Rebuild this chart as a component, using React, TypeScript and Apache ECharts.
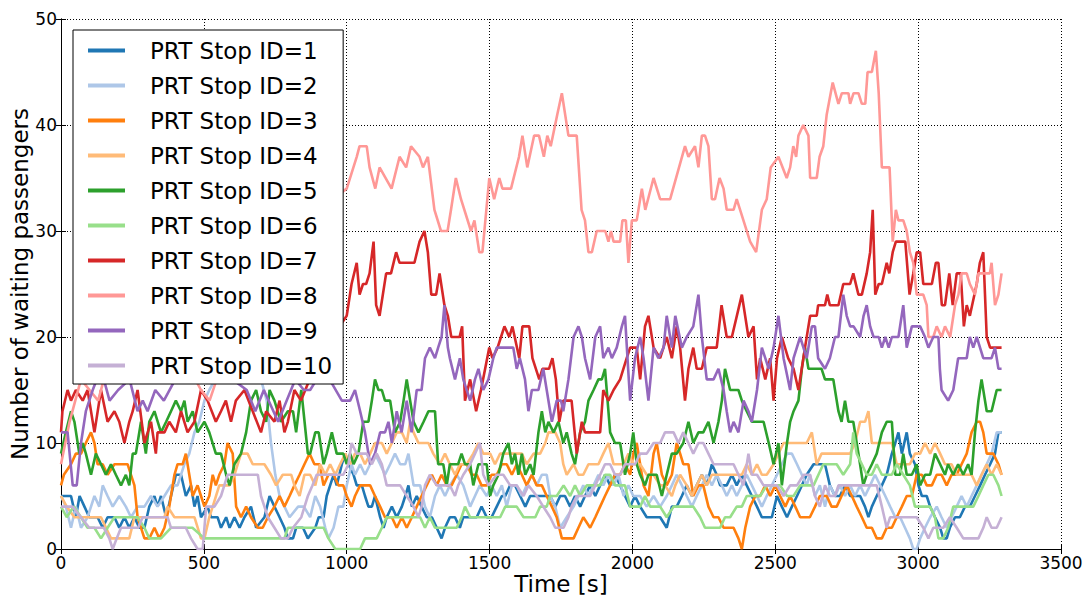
import React, { useEffect, useRef } from "react";
import * as echarts from "echarts";

const seriesNames = [
  "PRT Stop ID=1", "PRT Stop ID=2", "PRT Stop ID=3", "PRT Stop ID=4", "PRT Stop ID=5",
  "PRT Stop ID=6", "PRT Stop ID=7", "PRT Stop ID=8", "PRT Stop ID=9", "PRT Stop ID=10",
];
const seriesColors = [
  "#1f77b4", "#aec7e8", "#ff7f0e", "#ffbb78", "#2ca02c",
  "#98df8a", "#d62728", "#ff9896", "#9467bd", "#c5b0d5",
];

const xTicks = { min: 0, max: 3500, step: 500 };
const yTicks = { min: 0, max: 50, step: 10 };

// [time (s), waiting passengers]
const stop1 = [[0,5],[23,5],[35,5],[52,3],[65,5],[82,4],[99,3],[128,3],[146,2],[163,3],[187,3],[204,2],[222,3],[239,2],[257,3],[274,2],[292,2],[309,4],[327,5],[338,4],[350,5],[368,3],[385,5],[402,7],[420,7],[437,5],[455,6],[467,4],[478,5],[490,3],[513,4],[525,3],[548,3],[560,2],[578,3],[590,2],[607,3],[625,2],[642,3],[665,4],[683,2],[712,3],[730,5],[747,4],[765,3],[782,2],[794,1],[812,1],[823,2],[847,2],[864,1],[890,2],[902,3],[919,3],[930,5],[942,6],[954,7],[965,6],[983,8],[995,9],[1006,8],[1024,7],[1035,6],[1053,6],[1064,5],[1076,4],[1088,4],[1099,5],[1117,3],[1129,2],[1140,3],[1158,4],[1175,3],[1193,4],[1205,5],[1216,6],[1228,4],[1245,5],[1262,4],[1280,3],[1298,3],[1315,2],[1332,1],[1344,2],[1361,3],[1379,3],[1396,2],[1408,3],[1432,3],[1455,3],[1472,4],[1490,3],[1507,3],[1525,4],[1543,5],[1555,5],[1572,6],[1589,6],[1607,5],[1625,4],[1642,5],[1665,5],[1688,5],[1712,5],[1730,4],[1747,5],[1764,5],[1782,4],[1799,5],[1817,4],[1834,5],[1852,6],[1870,5],[1887,6],[1904,7],[1922,6],[1939,7],[1957,6],[1974,5],[1992,4],[2009,5],[2027,4],[2050,3],[2074,3],[2097,3],[2120,2],[2138,4],[2155,4],[2173,5],[2190,6],[2208,5],[2225,6],[2243,7],[2260,6],[2278,8],[2295,7],[2307,6],[2330,6],[2348,7],[2365,6],[2383,7],[2400,6],[2418,5],[2436,4],[2453,3],[2470,3],[2488,3],[2506,5],[2523,4],[2541,3],[2558,4],[2576,5],[2593,6],[2610,7],[2634,8],[2656,8],[2674,8],[2691,6],[2709,5],[2726,5],[2744,6],[2762,5],[2779,5],[2797,5],[2814,4],[2826,3],[2838,4],[2855,5],[2873,6],[2890,7],[2908,9],[2920,10],[2931,11],[2943,9],[2960,11],[2971,9],[2989,8],[3001,6],[3013,5],[3030,5],[3042,4],[3059,3],[3077,2],[3088,1],[3100,1],[3111,2],[3129,3],[3146,3],[3164,4],[3181,4],[3199,5],[3217,6],[3234,7],[3252,8],[3269,9],[3281,11],[3292,11]];
const stop2 = [[0,5],[17,4],[35,2],[52,4],[70,2],[93,3],[117,5],[134,4],[146,6],[163,5],[181,4],[204,5],[227,4],[245,3],[268,4],[292,4],[315,5],[338,4],[362,5],[385,6],[408,6],[432,8],[449,9],[467,11],[484,12],[502,14],[519,15],[560,17],[620,18],[680,17],[700,16],[720,14],[735,10],[750,7],[765,5],[782,4],[800,3],[830,4],[850,4],[872,3],[890,5],[907,4],[925,2],[936,1],[954,2],[971,4],[988,4],[1000,6],[1017,8],[1029,7],[1047,8],[1064,7],[1082,8],[1099,9],[1117,8],[1134,7],[1152,8],[1169,9],[1187,8],[1205,8],[1216,9],[1234,6],[1257,6],[1274,4],[1291,3],[1309,5],[1326,6],[1344,5],[1361,6],[1385,7],[1408,6],[1432,4],[1449,5],[1466,6],[1490,5],[1507,6],[1525,5],[1543,6],[1560,4],[1578,6],[1595,6],[1613,5],[1630,6],[1648,7],[1665,6],[1683,7],[1700,7],[1712,5],[1730,4],[1747,2],[1770,3],[1794,4],[1811,5],[1828,6],[1846,5],[1864,6],[1881,7],[1898,6],[1916,7],[1934,6],[1951,7],[1969,5],[1986,6],[2003,5],[2027,5],[2050,4],[2074,5],[2097,4],[2120,5],[2138,6],[2155,7],[2173,6],[2190,5],[2208,4],[2225,5],[2243,6],[2260,7],[2278,6],[2295,7],[2313,6],[2330,5],[2348,6],[2365,5],[2383,6],[2400,7],[2418,6],[2436,5],[2453,4],[2470,5],[2488,6],[2506,7],[2523,8],[2541,9],[2558,9],[2576,8],[2593,7],[2610,6],[2621,7],[2639,5],[2656,6],[2674,4],[2691,6],[2709,5],[2726,6],[2744,5],[2762,6],[2779,5],[2797,6],[2814,5],[2832,6],[2849,7],[2867,6],[2885,5],[2902,4],[2920,3],[2937,3],[2954,2],[2971,1],[2983,0],[2995,0],[3007,1],[3024,2],[3042,3],[3065,4],[3082,3],[3100,2],[3117,3],[3135,4],[3152,5],[3170,4],[3187,5],[3205,6],[3222,7],[3240,8],[3257,9],[3275,11],[3292,11]];
const stop3 = [[0,6],[10,7],[35,8],[52,9],[70,9],[87,10],[105,11],[117,10],[128,8],[146,8],[163,7],[187,8],[210,8],[233,8],[245,7],[257,6],[268,3],[292,1],[309,1],[327,2],[344,1],[362,2],[379,4],[397,7],[408,8],[426,8],[437,9],[449,7],[461,5],[478,6],[490,5],[502,4],[519,5],[531,7],[542,6],[554,7],[572,8],[583,10],[601,9],[613,4],[630,3],[648,4],[665,3],[689,2],[706,2],[724,3],[747,4],[765,5],[782,4],[800,5],[817,6],[835,7],[852,8],[870,9],[887,8],[905,8],[919,6],[936,7],[954,7],[971,6],[988,6],[1000,5],[1017,4],[1029,5],[1047,6],[1064,6],[1082,6],[1099,5],[1117,4],[1134,3],[1158,3],[1175,2],[1193,3],[1210,2],[1228,3],[1245,4],[1262,5],[1280,6],[1298,7],[1315,6],[1332,7],[1350,6],[1367,6],[1385,7],[1402,8],[1420,8],[1437,7],[1455,7],[1472,6],[1490,6],[1507,7],[1525,7],[1543,8],[1560,8],[1578,7],[1595,8],[1613,7],[1630,6],[1648,7],[1665,6],[1683,6],[1700,5],[1718,4],[1735,3],[1753,1],[1764,1],[1794,1],[1811,2],[1828,3],[1852,2],[1870,3],[1887,4],[1904,5],[1922,6],[1939,7],[1957,7],[1974,8],[1992,7],[2003,9],[2015,10],[2027,8],[2039,6],[2056,5],[2074,9],[2085,10],[2103,7],[2120,6],[2138,7],[2155,10],[2167,9],[2178,8],[2196,8],[2213,5],[2231,6],[2248,6],[2266,4],[2284,3],[2301,3],[2319,2],[2336,2],[2354,2],[2371,1],[2383,0],[2395,2],[2412,4],[2430,5],[2447,5],[2465,6],[2482,5],[2500,6],[2517,5],[2535,4],[2552,5],[2570,4],[2587,3],[2610,3],[2621,3],[2639,4],[2656,5],[2680,5],[2697,4],[2715,4],[2732,5],[2750,6],[2768,5],[2785,4],[2803,3],[2820,2],[2838,2],[2855,1],[2873,1],[2890,2],[2908,2],[2925,3],[2943,4],[2960,5],[2978,5],[2995,7],[3013,7],[3030,6],[3048,6],[3065,7],[3082,7],[3100,6],[3117,7],[3135,7],[3152,8],[3170,9],[3187,11],[3205,12],[3217,12],[3228,11],[3240,9],[3263,9],[3281,8],[3292,7]];
const stop4 = [[0,5],[20,4],[47,3],[100,3],[140,3],[175,1],[239,1],[257,3],[362,3],[373,4],[397,3],[467,3],[490,1],[502,1],[519,3],[531,4],[554,6],[572,6],[590,6],[607,7],[630,9],[653,9],[671,8],[689,8],[712,8],[735,7],[753,6],[776,7],[806,7],[817,6],[835,5],[852,7],[872,7],[890,6],[907,8],[925,7],[942,8],[960,7],[977,8],[995,9],[1012,8],[1029,9],[1047,9],[1064,8],[1082,9],[1099,10],[1123,10],[1140,9],[1158,10],[1175,11],[1193,11],[1210,10],[1222,12],[1234,11],[1251,10],[1269,10],[1286,10],[1303,9],[1326,8],[1344,9],[1361,8],[1379,7],[1396,8],[1420,8],[1443,9],[1461,10],[1478,9],[1502,9],[1519,8],[1537,9],[1560,9],[1578,9],[1595,9],[1613,9],[1630,8],[1654,9],[1677,9],[1695,10],[1706,11],[1730,11],[1747,10],[1758,8],[1770,7],[1794,8],[1811,7],[1828,7],[1846,8],[1864,8],[1881,8],[1898,9],[1916,10],[1934,8],[1951,8],[1969,8],[1986,9],[2003,8],[2027,8],[2050,7],[2074,7],[2097,6],[2114,6],[2138,5],[2150,6],[2167,7],[2190,6],[2208,5],[2225,6],[2243,7],[2260,6],[2278,7],[2295,7],[2313,7],[2330,7],[2348,7],[2365,7],[2383,7],[2400,8],[2418,7],[2436,8],[2453,7],[2470,7],[2494,8],[2511,9],[2529,10],[2552,10],[2570,10],[2587,10],[2610,10],[2628,11],[2645,8],[2662,9],[2685,9],[2715,9],[2738,9],[2762,9],[2779,10],[2797,12],[2814,12],[2826,13],[2838,10],[2855,10],[2873,10],[2890,10],[2908,10],[2925,8],[2948,8],[2971,8],[2989,9],[3007,9],[3024,10],[3042,9],[3059,10],[3077,9],[3094,8],[3117,8],[3135,7],[3152,7],[3170,7],[3187,7],[3205,6],[3222,7],[3240,8],[3257,7],[3275,8],[3292,7]];
const stop5 = [[0,9],[17,11],[35,13],[47,12],[64,9],[76,10],[87,9],[105,7],[122,9],[140,8],[157,7],[175,8],[192,7],[210,6],[227,7],[239,6],[251,9],[262,9],[280,12],[297,9],[309,12],[327,13],[350,11],[368,12],[385,13],[402,14],[420,13],[432,14],[443,12],[461,13],[478,11],[502,12],[519,11],[542,9],[560,9],[578,7],[590,6],[607,8],[630,9],[648,11],[665,14],[683,15],[700,13],[718,12],[730,15],[747,14],[770,12],[794,13],[812,13],[823,11],[841,15],[864,9],[872,9],[890,11],[902,11],[919,8],[930,9],[948,11],[965,9],[988,9],[1000,8],[1012,9],[1024,8],[1041,9],[1058,12],[1076,12],[1088,14],[1099,16],[1111,15],[1123,15],[1134,14],[1152,14],[1169,11],[1187,12],[1199,14],[1210,16],[1222,14],[1234,12],[1251,11],[1269,12],[1286,13],[1309,13],[1320,8],[1338,8],[1350,6],[1361,8],[1390,8],[1402,9],[1414,8],[1432,8],[1443,6],[1461,8],[1490,8],[1502,5],[1513,6],[1531,7],[1548,9],[1566,10],[1578,8],[1589,9],[1601,7],[1613,9],[1625,7],[1642,8],[1654,7],[1671,11],[1683,13],[1695,11],[1706,12],[1724,11],[1741,12],[1758,10],[1770,11],[1787,9],[1799,8],[1817,11],[1834,12],[1846,14],[1864,15],[1881,16],[1893,16],[1904,17],[1922,11],[1939,10],[1957,10],[1974,7],[1992,9],[2003,11],[2015,8],[2027,7],[2044,6],[2056,7],[2085,7],[2103,5],[2120,7],[2138,9],[2155,9],[2178,10],[2196,12],[2213,10],[2231,11],[2248,11],[2266,12],[2284,10],[2301,12],[2313,14],[2324,17],[2342,15],[2371,15],[2383,14],[2400,13],[2418,12],[2459,12],[2477,10],[2494,8],[2511,10],[2523,6],[2541,10],[2552,12],[2564,13],[2581,14],[2593,17],[2604,19],[2616,17],[2633,17],[2662,17],[2674,16],[2703,16],[2721,13],[2732,12],[2744,14],[2756,12],[2773,12],[2791,9],[2808,6],[2820,7],[2838,8],[2855,9],[2873,11],[2890,12],[2908,12],[2920,7],[2937,7],[2948,9],[2960,7],[2978,7],[2995,8],[3007,6],[3024,7],[3042,7],[3059,9],[3077,8],[3094,7],[3105,8],[3123,7],[3140,8],[3158,7],[3175,8],[3187,7],[3199,11],[3211,14],[3222,16],[3240,13],[3257,13],[3275,15],[3292,15]];
const stop6 = [[0,4],[20,3],[45,4],[70,3],[93,2],[117,2],[140,1],[163,2],[187,3],[268,3],[292,2],[309,1],[350,1],[385,2],[460,2],[502,1],[560,1],[620,1],[690,1],[782,1],[794,2],[872,2],[919,2],[936,1],[960,0],[1047,0],[1064,1],[1105,1],[1123,2],[1140,3],[1210,3],[1257,3],[1274,2],[1291,3],[1309,2],[1385,2],[1402,3],[1414,4],[1432,3],[1537,3],[1555,4],[1595,4],[1619,3],[1660,3],[1677,4],[1700,4],[1712,5],[1735,5],[1759,6],[1782,5],[1799,6],[1817,5],[1840,6],[1887,6],[1904,7],[1922,7],[1939,6],[1974,6],[1992,4],[2027,4],[2044,5],[2062,4],[2097,4],[2120,3],[2144,4],[2213,4],[2237,3],[2254,2],[2307,2],[2324,3],[2342,3],[2365,4],[2383,4],[2400,5],[2447,5],[2470,6],[2517,6],[2541,5],[2564,5],[2587,6],[2634,6],[2651,7],[2668,8],[2715,8],[2738,7],[2762,8],[2773,11],[2785,9],[2803,8],[2820,7],[2838,7],[2855,8],[2873,7],[2908,7],[2925,8],[2948,7],[2971,6],[2989,4],[3042,4],[3059,3],[3071,1],[3088,1],[3105,2],[3123,4],[3193,4],[3211,5],[3228,6],[3246,7],[3263,7],[3281,6],[3292,5]];
const stop7 = [[0,11],[5,13],[23,15],[35,14],[52,15],[76,14],[93,15],[117,11],[140,15],[163,12],[187,13],[204,12],[222,10],[239,12],[251,13],[268,15],[292,10],[315,12],[332,9],[338,11],[362,11],[379,12],[402,11],[420,13],[443,11],[467,12],[490,15],[513,14],[542,12],[560,13],[577,14],[595,12],[612,14],[642,15],[671,13],[700,11],[718,13],[747,12],[765,14],[782,11],[794,12],[817,15],[840,14],[870,16],[910,18],[950,20],[1000,22],[1017,25],[1035,27],[1045,24],[1057,25],[1068,25],[1080,26],[1094,29],[1103,23],[1115,22],[1138,26],[1155,26],[1173,28],[1185,27],[1237,27],[1255,29],[1272,30],[1284,28],[1296,24],[1313,24],[1325,26],[1342,23],[1354,22],[1366,20],[1395,20],[1404,21],[1414,14],[1432,16],[1453,13],[1470,15],[1499,19],[1510,18],[1528,19],[1540,20],[1552,21],[1569,20],[1580,21],[1604,18],[1615,21],[1639,21],[1650,18],[1674,16],[1685,17],[1708,17],[1720,18],[1732,16],[1744,12],[1758,14],[1787,14],[1805,9],[1823,12],[1834,11],[1887,11],[1898,15],[1916,14],[1934,15],[1957,16],[1980,18],[1992,19],[2015,19],[2027,16],[2044,21],[2056,22],[2074,19],[2097,18],[2120,20],[2138,18],[2155,21],[2167,19],[2184,14],[2196,17],[2213,19],[2225,17],[2243,17],[2260,19],[2295,19],[2312,23],[2330,20],[2348,20],[2383,24],[2406,20],[2424,21],[2436,16],[2447,18],[2465,16],[2482,18],[2494,14],[2506,18],[2523,20],[2545,18],[2564,17],[2581,15],[2604,19],[2622,22],[2645,22],[2650,23],[2674,23],[2682,24],[2691,23],[2721,23],[2738,25],[2762,25],[2773,26],[2791,24],[2803,24],[2820,26],[2832,28],[2841,32],[2850,24],[2862,25],[2873,25],[2890,27],[2899,26],[2911,28],[2922,29],[2955,29],[2970,24],[2983,26],[2995,28],[3007,28],[3018,25],[3048,25],[3062,27],[3071,27],[3083,23],[3094,23],[3109,26],[3121,23],[3135,26],[3149,26],[3160,21],[3170,23],[3181,22],[3205,25],[3216,27],[3228,28],[3240,20],[3252,19],[3292,19]];
const stop8 = [[0,8],[15,10],[30,12],[50,14],[70,16],[100,15],[130,14],[160,17],[220,20],[300,22],[380,19],[450,17],[490,15],[520,14],[545,16],[600,20],[700,25],[800,28],[880,31],[950,33],[1000,34],[1035,37],[1045,38],[1070,38],[1080,36],[1100,34],[1115,36],[1157,34],[1185,37],[1208,36],[1225,38],[1255,37],[1267,36],[1284,37],[1307,32],[1330,30],[1353,30],[1365,32],[1382,35],[1400,33],[1435,30],[1447,31],[1464,28],[1475,28],[1499,35],[1516,33],[1534,35],[1545,34],[1575,34],[1603,37],[1615,39],[1632,36],[1656,39],[1673,39],[1690,37],[1702,39],[1714,38],[1737,41],[1753,43],[1776,39],[1805,39],[1822,32],[1834,31],[1846,28],[1858,28],[1875,30],[1905,30],[1916,29],[1925,30],[1934,29],[1957,29],[1965,31],[1977,31],[1986,27],[1998,31],[2015,31],[2033,34],[2045,32],[2074,35],[2097,33],[2132,33],[2184,38],[2196,37],[2219,38],[2231,36],[2243,39],[2254,39],[2266,38],[2278,33],[2289,33],[2305,35],[2319,34],[2330,32],[2354,32],[2365,33],[2412,29],[2433,28],[2453,32],[2470,33],[2484,36],[2511,37],[2540,35],[2552,36],[2563,38],[2573,37],[2581,39],[2598,40],[2616,39],[2622,35],[2645,35],[2655,37],[2668,38],[2680,41],[2701,44],[2721,42],[2733,43],[2756,43],[2762,42],[2774,43],[2791,43],[2803,42],[2815,42],[2823,45],[2838,45],[2852,47],[2862,43],[2873,36],[2900,36],[2911,29],[2922,32],[2931,31],[2948,31],[2960,30],[2971,28],[2983,27],[2995,24],[3018,24],[3030,23],[3036,20],[3053,20],[3065,21],[3082,20],[3094,21],[3112,20],[3129,23],[3141,24],[3152,26],[3170,26],[3181,25],[3199,24],[3211,26],[3228,26],[3251,26],[3257,27],[3269,23],[3281,24],[3292,26]];
const stop9 = [[0,11],[23,11],[41,6],[55,6],[70,10],[87,13],[111,15],[140,17],[170,14],[200,15],[240,16],[268,13],[286,14],[303,13],[330,15],[360,14],[400,16],[450,17],[500,16],[550,17],[600,16],[650,15],[680,13],[710,15],[760,12],[790,14],[820,16],[850,15],[872,15],[895,16],[940,16],[983,14],[1012,14],[1029,15],[1047,13],[1064,11],[1082,8],[1099,9],[1117,11],[1134,11],[1146,12],[1158,10],[1175,13],[1192,11],[1210,14],[1227,11],[1245,15],[1262,15],[1274,18],[1291,19],[1309,18],[1320,19],[1332,20],[1342,23],[1354,19],[1361,18],[1379,16],[1396,18],[1408,16],[1432,14],[1449,16],[1461,17],[1478,15],[1496,16],[1513,18],[1525,19],[1545,19],[1583,19],[1595,17],[1606,18],[1624,16],[1636,13],[1648,15],[1671,15],[1688,17],[1700,15],[1718,12],[1735,14],[1750,14],[1758,13],[1776,16],[1794,20],[1811,21],[1823,20],[1834,18],[1852,16],[1870,20],[1887,21],[1898,18],[1916,19],[1928,18],[1945,19],[1963,21],[1974,22],[1985,17],[1992,14],[2009,18],[2027,20],[2039,18],[2056,14],[2074,19],[2091,18],[2109,19],[2120,22],[2138,19],[2150,22],[2173,19],[2190,20],[2213,21],[2231,24],[2243,20],[2260,16],[2284,16],[2301,17],[2319,15],[2330,13],[2342,11],[2354,12],[2371,11],[2389,14],[2406,13],[2418,12],[2436,15],[2453,19],[2465,18],[2477,17],[2494,19],[2511,22],[2529,18],[2552,15],[2564,18],[2587,20],[2610,18],[2628,21],[2639,21],[2650,18],[2674,17],[2691,18],[2709,20],[2721,20],[2738,24],[2750,22],[2762,21],[2774,21],[2797,20],[2809,22],[2820,23],[2832,21],[2844,20],[2862,20],[2873,19],[2885,20],[2897,19],[2908,20],[2931,20],[2948,23],[2960,19],[2978,21],[3007,21],[3024,20],[3036,19],[3053,20],[3071,20],[3076,17],[3082,15],[3105,14],[3123,15],[3140,18],[3170,18],[3181,20],[3193,19],[3205,20],[3228,18],[3257,18],[3269,19],[3281,17],[3292,17]];
const stop10 = [[0,4],[40,4],[70,3],[99,2],[150,2],[169,1],[181,0],[195,1],[210,2],[270,2],[286,3],[373,3],[385,2],[437,2],[455,1],[478,0],[496,0],[508,4],[537,4],[560,5],[583,7],[689,7],[700,5],[724,3],[747,2],[770,1],[794,1],[812,2],[841,3],[864,5],[880,6],[895,7],[988,7],[1006,8],[1017,10],[1035,9],[1070,9],[1088,8],[1105,9],[1123,8],[1140,6],[1187,6],[1210,5],[1234,4],[1251,3],[1262,4],[1274,6],[1291,7],[1315,6],[1361,6],[1379,5],[1390,6],[1408,7],[1432,8],[1449,9],[1466,10],[1478,7],[1496,6],[1525,7],[1548,7],[1572,6],[1595,6],[1619,5],[1636,6],[1665,5],[1688,4],[1712,3],[1730,2],[1759,2],[1776,3],[1787,4],[1805,5],[1852,5],[1870,6],[1887,7],[1904,8],[1922,8],[1939,7],[1957,7],[1974,8],[2009,8],[2027,9],[2050,9],[2074,10],[2097,10],[2114,11],[2144,11],[2161,10],[2178,11],[2196,10],[2213,9],[2231,10],[2248,10],[2266,9],[2284,8],[2354,8],[2371,7],[2389,6],[2406,9],[2418,7],[2436,7],[2459,6],[2506,6],[2529,5],[2552,6],[2576,6],[2599,7],[2622,7],[2639,5],[2656,4],[2674,6],[2691,5],[2709,5],[2721,6],[2855,6],[2873,4],[2890,2],[2902,3],[2995,3],[3018,2],[3036,1],[3053,2],[3088,2],[3111,3],[3135,2],[3158,1],[3211,1],[3228,2],[3240,3],[3257,2],[3275,2],[3292,3]];

const allData = [stop1, stop2, stop3, stop4, stop5, stop6, stop7, stop8, stop9, stop10];

const FONT = "DejaVu Sans";

export default function App() {
  const ref = useRef<HTMLDivElement>(null);
  useEffect(() => {
    if (!ref.current) return;
    const chart = echarts.init(ref.current, undefined, { renderer: "svg" });
    const frameAxis = {
      type: "value",
      axisLine: { show: true, lineStyle: { color: "#000", width: 1 } },
      axisTick: { show: true, inside: true, length: 5, lineStyle: { color: "#000" } },
    };
    const plain = (v: number) => String(v);
    const xBase = { min: xTicks.min, max: xTicks.max, interval: xTicks.step };
    const yBase = { min: yTicks.min, max: yTicks.max, interval: yTicks.step };
    chart.setOption({
      animation: false,
      backgroundColor: "#fff",
      textStyle: { fontFamily: FONT },
      grid: { left: 61, right: 31, top: 19, bottom: 47, containLabel: false, outerBoundsMode: "none" },
      legend: {
        orient: "vertical",
        left: 73,
        top: 30,
        data: seriesNames,
        icon: "rect",
        itemWidth: 37,
        itemHeight: 4,
        itemGap: 12,
        padding: [9, 11, 7, 15],
        backgroundColor: "#fff",
        borderColor: "#000",
        borderWidth: 1,
        borderRadius: 0,
        textStyle: { fontSize: 23, color: "#000", fontFamily: FONT, padding: [0, 0, 0, 20] },
      },
      xAxis: [
        {
          ...frameAxis,
          ...xBase,
          position: "bottom",
          name: "Time [s]",
          nameLocation: "middle",
          nameGap: 23,
          nameMoveOverlap: false,
          nameTextStyle: { fontSize: 23, color: "#000", fontFamily: FONT, lineHeight: 24 },
          axisLabel: { fontSize: 17, color: "#000", margin: 5, showMinLabel: true, showMaxLabel: true, fontFamily: FONT, formatter: plain },
          splitLine: { show: true, lineStyle: { color: "#000", type: [1, 2], width: 1 } },
        },
        {
          ...frameAxis,
          ...xBase,
          position: "top",
          axisLabel: { show: false },
          splitLine: { show: false },
        },
      ],
      yAxis: [
        {
          ...frameAxis,
          ...yBase,
          position: "left",
          name: "Number of waiting passengers",
          nameLocation: "middle",
          nameGap: 29,
          nameMoveOverlap: false,
          nameTextStyle: { fontSize: 23, color: "#000", fontFamily: FONT, lineHeight: 24 },
          axisLabel: { fontSize: 17, color: "#000", margin: 4, showMinLabel: true, showMaxLabel: true, fontFamily: FONT, formatter: plain },
          splitLine: { show: true, lineStyle: { color: "#000", type: [1, 2], width: 1 } },
        },
        {
          ...frameAxis,
          ...yBase,
          position: "right",
          axisLabel: { show: false },
          splitLine: { show: false },
        },
      ],
      series: allData.map((d, i) => ({
        name: seriesNames[i],
        type: "line",
        xAxisIndex: 0,
        yAxisIndex: 0,
        data: d,
        symbol: "none",
        showSymbol: false,
        color: seriesColors[i],
        lineStyle: { width: 2.6, color: seriesColors[i] },
        itemStyle: { color: seriesColors[i] },
        z: 2,
      })),
    });
    return () => chart.dispose();
  }, []);
  return (
    <div
      ref={ref}
      style={{ position: "fixed", left: 0, top: 0, width: 1092, height: 596, background: "#fff" }}
    />
  );
}
